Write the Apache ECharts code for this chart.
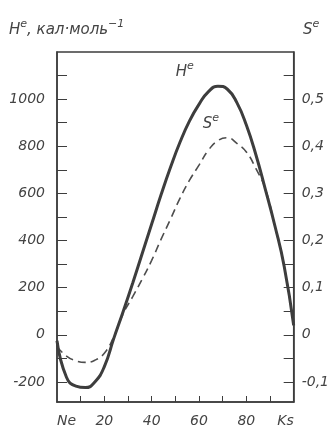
<!DOCTYPE html>
<html><head><meta charset="utf-8">
<script src="https://cdn.jsdelivr.net/npm/echarts@6/dist/echarts.min.js"></script>
<style>html,body{margin:0;padding:0;background:#fff}#c{width:332px;height:432px}</style>
</head><body><div id="c"></div><script>
// Composition (Ne -> Ks), mol %
const xValues = [0, 4, 8, 12, 16, 20, 24, 28, 32, 36, 40, 44, 48, 52, 56, 60, 64, 68, 72, 76, 80, 84, 88, 92, 96, 100];
// H^e, кал·моль^-1
const hValues = [-25, -180, -218, -224, -200, -135, -15, 100, 220, 345, 470, 595, 712, 818, 908, 978, 1032, 1055, 1042, 985, 890, 765, 618, 465, 290, 40];
// S^e
const sValues = [-0.025, -0.045, -0.055, -0.0585, -0.054, -0.039, -0.004, 0.045, 0.081, 0.118, 0.158, 0.203, 0.246, 0.29, 0.328, 0.36, 0.392, 0.412, 0.418, 0.406, 0.388, 0.353, 0.31, 0.232, 0.145, 0.02];
const hTickLabels = [-200, 0, 200, 400, 600, 800, 1000];
const hTicks = [-200, -100, 0, 100, 200, 300, 400, 500, 600, 700, 800, 900, 1000, 1100];
const sTickLabels = [-0.1, 0, 0.1, 0.2, 0.3, 0.4, 0.5];
const sTicks = [-0.1, -0.05, 0, 0.05, 0.1, 0.15, 0.2, 0.25, 0.3, 0.35, 0.4, 0.45, 0.5, 0.55];
const xTickLabels = [0, 20, 40, 60, 80, 100];
const xTicks = [10, 20, 30, 40, 50, 60, 70, 80, 90];
const xEndNames = {0: 'Ne', 100: 'Ks'};

const INK = '#3d3d3d';
const TXT = '#444';
const FONT = "'DejaVu Sans', sans-serif";
const lab = {color: TXT, fontFamily: FONT, fontStyle: 'italic', fontWeight: 'normal', fontSize: 14};
const mkRich = (big, small) => ({
  i: {color: TXT, fontFamily: FONT, fontStyle: 'italic', fontWeight: 'normal', fontSize: big, lineHeight: 19, verticalAlign: 'bottom'},
  s: {color: TXT, fontFamily: FONT, fontStyle: 'italic', fontWeight: 'normal', fontSize: small, lineHeight: 19, verticalAlign: 'top', padding: [0, 0, 7, 0]}
});
const titleRich = mkRich(15, 11);
const curveRich = mkRich(15, 11);

const chart = echarts.init(document.getElementById('c'), null, {renderer: 'canvas'});
chart.setOption({
  backgroundColor: '#fff',
  animation: false,
  title: [
    {text: '{i|H}{s|e}{i|, кал·моль}{s|−1}', left: 4, top: 14, textStyle: {fontWeight: 'normal', rich: titleRich}},
    {text: '{i|S}{s|e}', left: 298, top: 14, textStyle: {fontWeight: 'normal', rich: titleRich}}
  ],
  grid: {left: 57, right: 38, top: 52, bottom: 30, show: true, borderColor: INK, borderWidth: 1.5, backgroundColor: 'transparent'},
  xAxis: {
    type: 'value', min: 0, max: 100,
    axisLine: {show: true, onZero: false, lineStyle: {color: INK, width: 1.5}},
    splitLine: {show: false},
    axisTick: {show: true, inside: true, length: 6, customValues: xTicks, lineStyle: {color: INK, width: 1}},
    axisLabel: Object.assign({}, lab, {
      margin: 12, customValues: xTickLabels,
      alignMinLabel: 'left', alignMaxLabel: 'right',
      formatter: v => xEndNames[v] || String(v)
    })
  },
  yAxis: [
    {
      type: 'value', min: -285, max: 1200, position: 'left',
      axisLine: {show: true, onZero: false, lineStyle: {color: INK, width: 1.5}},
      splitLine: {show: false},
      axisTick: {show: true, inside: true, length: 10, customValues: hTicks, lineStyle: {color: INK, width: 1}},
      axisLabel: Object.assign({}, lab, {margin: 12, customValues: hTickLabels, formatter: v => String(v)})
    },
    {
      type: 'value', min: -0.1425, max: 0.6, position: 'right',
      axisLine: {show: true, onZero: false, lineStyle: {color: INK, width: 1.5}},
      splitLine: {show: false},
      axisTick: {show: true, inside: true, length: 10, customValues: sTicks, lineStyle: {color: INK, width: 1}},
      axisLabel: Object.assign({}, lab, {margin: 8, customValues: sTickLabels, formatter: v => String(Math.round(v * 10) / 10).replace('.', ',')})
    }
  ],
  series: [
    {
      name: 'H^e', type: 'line', yAxisIndex: 0, smooth: 0.5, symbol: 'none',
      data: xValues.map((x, i) => [x, hValues[i]]),
      lineStyle: {color: INK, width: 3},
      z: 3,
      markPoint: {
        symbol: 'circle', symbolSize: 0, silent: true,
        data: [{coord: [54, 1125]}],
        label: {show: true, position: 'inside', formatter: '{i|H}{s|e}', rich: curveRich}
      }
    },
    {
      name: 'S^e', type: 'line', yAxisIndex: 1, smooth: 0.5, symbol: 'none',
      data: xValues.map((x, i) => [x, sValues[i]]),
      lineStyle: {color: '#4d4d4d', width: 1.6, type: [8, 5]},
      z: 2,
      markPoint: {
        symbol: 'circle', symbolSize: 0, silent: true,
        data: [{coord: [65, 0.452]}],
        label: {show: true, position: 'inside', formatter: '{i|S}{s|e}', rich: curveRich}
      }
    }
  ]
});
</script></body></html>
